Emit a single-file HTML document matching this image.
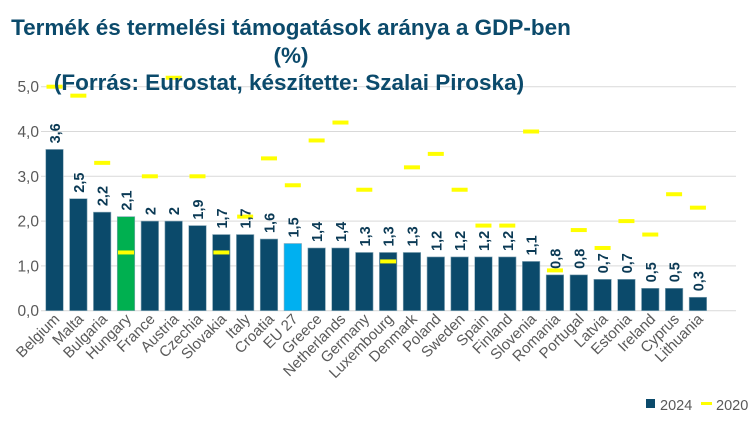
<!DOCTYPE html>
<html><head><meta charset="utf-8"><style>
body{margin:0;background:#fff;}
svg text{font-family:"Liberation Sans",sans-serif;}
</style></head><body>
<svg width="750" height="419" xmlns="http://www.w3.org/2000/svg" id="c">
<g id="grid"></g>
<g id="bars"></g>
<g id="marks"></g>
<g id="labels"></g>
<g id="xl"></g>
<g id="yl"></g>
<g font-weight="bold" font-size="22.5" fill="#0b4a6b" text-anchor="middle">
<text x="291" y="35">Termék és termelési támogatások aránya a GDP-ben</text>
<text x="291" y="63">(%)</text>
<text x="289" y="90">(Forrás: Eurostat, készítette: Szalai Piroska)</text>
</g>
<g>
<rect x="646" y="399" width="9" height="9" fill="#0b4a6b"/>
<text x="660" y="410" font-size="14.5" fill="#595959">2024</text>
<rect x="701" y="402" width="11" height="3" fill="#ffff00"/>
<text x="716" y="410" font-size="14.5" fill="#595959">2020</text>
</g>
</svg>
<script>
const categories=["Belgium","Malta","Bulgaria","Hungary","France","Austria","Czechia","Slovakia","Italy","Croatia","EU_27","Greece","Netherlands","Germany","Luxembourg","Denmark","Poland","Sweden","Spain","Finland","Slovenia","Romania","Portugal","Latvia","Estonia","Ireland","Cyprus","Lithuania"];
const values2024=[3.6,2.5,2.2,2.1,2,2,1.9,1.7,1.7,1.6,1.5,1.4,1.4,1.3,1.3,1.3,1.2,1.2,1.2,1.2,1.1,0.8,0.8,0.7,0.7,0.5,0.5,0.3];
const values2020=[5.0,4.8,3.3,1.3,3.0,5.2,3.0,1.3,2.1,3.4,2.8,3.8,4.2,2.7,1.1,3.2,3.5,2.7,1.9,1.9,4.0,0.9,1.8,1.4,2.0,1.7,2.6,2.3];
const yTicks=[0,1,2,3,4,5];
const yTickLabels=["0,0","1,0","2,0","3,0","4,0","5,0"];
const NS="http://www.w3.org/2000/svg";
const y0=310.7,unit=44.8,x0=42.6,step=23.83,bw=17.5;
const Y=v=>y0-v*unit;
const X=i=>x0+step*(i+0.5);
function mk(t,a,p){const e=document.createElementNS(NS,t);for(const k in a)e.setAttribute(k,a[k]);document.getElementById(p).appendChild(e);return e;}
yTicks.forEach((v,i)=>{
 const l=mk('line',{x1:41,x2:736,y1:Y(v),y2:Y(v),stroke:'#d9d9d9','stroke-width':1},'grid');
 
 
 const t=mk('text',{x:39,y:Y(v)+5.5,'text-anchor':'end','font-size':15.5,fill:'#595959'},'yl');
 t.textContent=yTickLabels[i];
 
 
});
categories.forEach((c,i)=>{
 const cx=X(i);
 const col=c==="Hungary"?"#00b050":(c==="EU_27"?"#00b0f0":"#0b4a6b");
 const r=mk('rect',{x:cx-bw/2,y:Y(values2024[i]),width:bw,height:values2024[i]*unit,fill:col,stroke:'#8aa9b8','stroke-width':0.6},'bars');
 
 
 const m=mk('rect',{x:cx-8,y:Y(values2020[i])-2,width:16,height:4,fill:'#ffff00'},'marks');
 
 
 const ly=Y(values2024[i])-6;
 const t=mk('text',{x:cx+5.5,y:ly,transform:`rotate(-90 ${cx+5.5} ${ly})`,'font-size':14.5,'font-weight':'bold',fill:'#0b3a55'},'labels');
 t.textContent=String(values2024[i]).replace('.',',');
 
 
 const lx=cx+6,lyy=320;
 const xl=mk('text',{x:lx,y:lyy,transform:`rotate(-45 ${lx} ${lyy})`,'text-anchor':'end','font-size':15,fill:'#595959'},'xl');
 xl.textContent=c.replace('_',' ');
 
 
});
</script>
</body></html>
